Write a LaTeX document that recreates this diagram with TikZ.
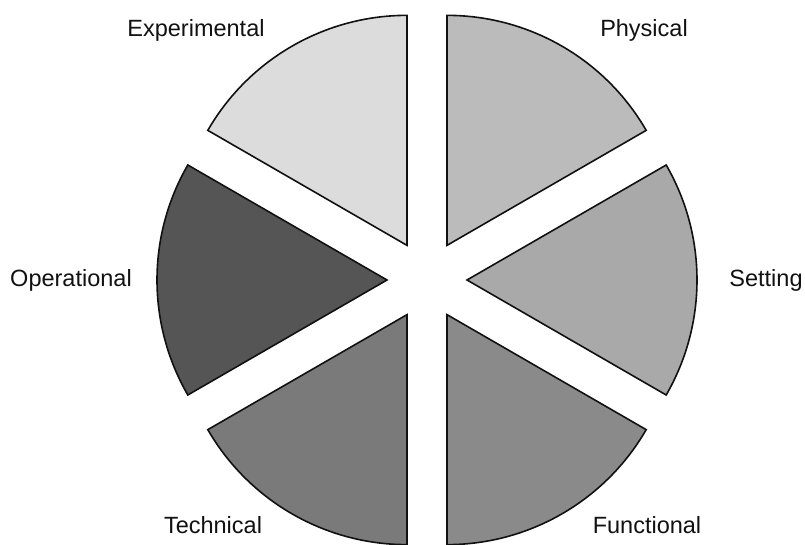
\documentclass[tikz,border=0pt]{standalone}
\usepackage{fontspec}
\setmainfont{Liberation Sans}
\usepackage{xcolor}
\usepackage{tikz}
\definecolor{ExpGray}{HTML}{DCDCDC}
\definecolor{PhyGray}{HTML}{BBBBBB}
\definecolor{SetGray}{HTML}{A9A9A9}
\definecolor{FunGray}{HTML}{8A8A8A}
\definecolor{TecGray}{HTML}{7A7A7A}
\definecolor{OpeGray}{HTML}{555555}
\definecolor{Edge}{HTML}{111111}
\tikzset{
  wedge/.style={draw=Edge, line width=1.6pt, line join=miter},
  facet/.style={anchor=base, inner sep=0pt, text=Edge, font=\fontsize{23.5}{28}\selectfont}
}

\begin{document}
\begin{tikzpicture}[x=1pt, y=1pt]
  \useasboundingbox (-427,-265) rectangle (378,280);
  \draw[wedge, fill=PhyGray] (60:40) -- ++(30:230) arc[start angle=30, end angle=90, radius=230] -- cycle;
  \draw[wedge, fill=ExpGray] (120:40) -- ++(90:230) arc[start angle=90, end angle=150, radius=230] -- cycle;
  \draw[wedge, fill=OpeGray] (180:40) -- ++(150:230) arc[start angle=150, end angle=210, radius=230] -- cycle;
  \draw[wedge, fill=TecGray] (240:40) -- ++(210:230) arc[start angle=210, end angle=270, radius=230] -- cycle;
  \draw[wedge, fill=FunGray] (300:40) -- ++(270:230) arc[start angle=270, end angle=330, radius=230] -- cycle;
  \draw[wedge, fill=SetGray] (0:40) -- ++(-30:230) arc[start angle=-30, end angle=30, radius=230] -- cycle;
  \node[facet] (experimental) at (-231,243) {Experimental};
  \node[facet] (physical) at (217,243) {Physical};
  \node[facet] (operational) at (-356,-7) {Operational};
  \node[facet] (setting) at (339,-7) {Setting};
  \node[facet] (technical) at (-214,-253) {Technical};
  \node[facet] (functional) at (220,-253) {Functional};
\end{tikzpicture}
\end{document}
